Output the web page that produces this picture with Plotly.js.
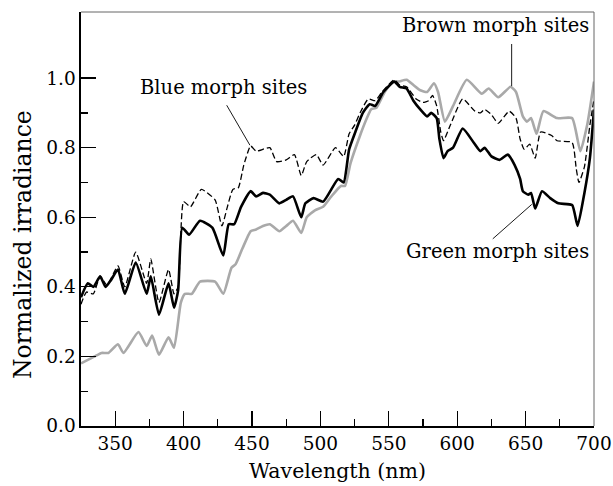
<!DOCTYPE html>
<html>
<head>
<meta charset="utf-8">
<script src="https://cdn.plot.ly/plotly-3.0.1.min.js"></script>
<style>html,body{margin:0;padding:0;background:#fff;}#chart{width:613px;height:486px;}</style>
</head>
<body>
<div id="chart"></div>
<script>
// Green morph sites (black solid)
const greenWl = [325,330,334,339,343,347,352,357,365,373,376,382,389,393,396,399,404,412,421,429,433,437,442,449,453,458,463,470,475,480,486,489,495,502,513,517,521,526,531,536,540,546,554,558,563,568,573,578,581,585,587,590,593,597,604,612,617,620,625,631,637,642,646,648,652,654,657,662,668,674,684,688,693,697,700];
const greenVal = [0.37,0.41,0.40,0.43,0.40,0.42,0.45,0.38,0.47,0.38,0.43,0.32,0.41,0.34,0.39,0.57,0.55,0.59,0.57,0.49,0.58,0.58,0.63,0.675,0.66,0.67,0.665,0.64,0.65,0.66,0.60,0.64,0.655,0.645,0.71,0.70,0.795,0.85,0.90,0.925,0.92,0.96,0.99,0.975,0.97,0.935,0.91,0.89,0.90,0.885,0.825,0.77,0.79,0.80,0.855,0.815,0.79,0.80,0.775,0.765,0.78,0.75,0.71,0.675,0.665,0.67,0.625,0.675,0.655,0.64,0.635,0.575,0.67,0.77,0.91];

// Brown morph sites (gray solid)
const brownWl = [325,330,335,340,345,352,356,367,373,377,382,389,393,398,401,406,412,423,429,435,438,443,449,453,458,463,470,475,480,486,490,496,502,508,515,518,522,529,534,537,541,547,553,557,563,568,573,578,583,586,591,597,607,618,623,630,639,643,648,651,654,658,663,673,684,690,695,700];
const brownVal = [0.18,0.19,0.20,0.21,0.21,0.235,0.21,0.27,0.23,0.26,0.205,0.255,0.225,0.355,0.38,0.38,0.415,0.415,0.38,0.455,0.465,0.51,0.56,0.565,0.575,0.58,0.56,0.575,0.59,0.555,0.60,0.62,0.63,0.66,0.69,0.69,0.755,0.835,0.885,0.91,0.915,0.96,0.99,0.99,0.995,0.98,0.965,0.96,0.985,0.96,0.875,0.92,0.995,0.955,0.97,0.945,0.975,0.96,0.89,0.875,0.885,0.84,0.905,0.885,0.885,0.79,0.865,0.99];

// Blue morph sites (black dashed)
const blueWl = [325,329,334,339,344,352,357,365,373,376,382,389,393,396,400,405,413,423,428,432,436,440,444,449,453,463,468,475,481,486,490,497,502,511,517,521,525,529,535,540,545,554,558,563,570,575,579,582,585,588,590,595,604,613,617,620,625,630,638,643,646,649,653,657,661,669,673,684,687,689,693,697,700];
const blueVal = [0.35,0.385,0.38,0.43,0.405,0.46,0.40,0.50,0.41,0.48,0.355,0.45,0.38,0.40,0.645,0.63,0.68,0.65,0.575,0.63,0.68,0.685,0.75,0.805,0.79,0.80,0.76,0.765,0.78,0.72,0.76,0.78,0.75,0.80,0.775,0.84,0.865,0.90,0.94,0.935,0.96,0.995,0.98,0.975,0.94,0.93,0.935,0.95,0.92,0.845,0.82,0.865,0.94,0.905,0.90,0.91,0.895,0.87,0.905,0.885,0.825,0.795,0.81,0.77,0.845,0.835,0.82,0.815,0.74,0.70,0.745,0.865,0.94];

const xTicks = [350,400,450,500,550,600,650,700];
const yTicks = [0,0.2,0.4,0.6,0.8,1.0];
const yTickText = ['0.0','0.2','0.4','0.6','0.8','1.0'];
const labels = ['Blue morph sites','Brown morph sites','Green morph sites'];
const xTitle = 'Wavelength (nm)';
const yTitle = 'Normalized irradiance';

const FONT = 'DejaVu Serif, Liberation Serif, serif';

const traces = [
  {x: brownWl, y: brownVal, type: 'scatter', mode: 'lines', name: labels[1],
   line: {color: '#a9a9a9', width: 2.6, shape: 'spline', smoothing: 0.5}},
  {x: blueWl, y: blueVal, type: 'scatter', mode: 'lines', name: labels[0],
   line: {color: '#000', width: 1.3, dash: '6px,3px', shape: 'spline', smoothing: 0.5}},
  {x: greenWl, y: greenVal, type: 'scatter', mode: 'lines', name: labels[2],
   line: {color: '#000', width: 2.6, shape: 'spline', smoothing: 0.5}}
];

const layout = {
  width: 613, height: 486,
  margin: {l: 81, r: 19, t: 12, b: 60},
  paper_bgcolor: '#fff', plot_bgcolor: '#fff',
  showlegend: false,
  font: {family: FONT, size: 19, color: '#000'},
  xaxis: {
    range: [325, 700], tickmode: 'array', tickvals: xTicks,
    ticks: 'inside', ticklen: 15, tickwidth: 1.3, tickcolor: '#000',
    minor: {tickmode: 'array', tickvals: [375,425,475,525,575,625,675], ticks: 'inside', ticklen: 7, tickwidth: 1.3, tickcolor: '#000'},
    showline: true, linecolor: '#000', linewidth: 1.6,
    showgrid: false, zeroline: false,
    tickfont: {family: FONT, size: 18.5, color: '#000'},
    title: {text: xTitle, font: {family: FONT, size: 20.5, color: '#000'}, standoff: 11}
  },
  yaxis: {
    range: [0, 1.19], tickmode: 'array', tickvals: yTicks, ticktext: yTickText,
    ticks: 'inside', ticklen: 15, tickwidth: 1.3, tickcolor: '#000',
    minor: {tickmode: 'array', tickvals: [0.1,0.3,0.5,0.7,0.9], ticks: 'inside', ticklen: 7, tickwidth: 1.3, tickcolor: '#000'},
    showline: true, linecolor: '#000', linewidth: 1.6,
    showgrid: false, zeroline: false,
    tickfont: {family: FONT, size: 18.5, color: '#000'}
  },
  shapes: [
    {type: 'line', xref: 'paper', yref: 'paper', x0: 0, x1: 1, y0: 1, y1: 1, line: {color: '#666', width: 1}},
    {type: 'line', xref: 'paper', yref: 'paper', x0: 1, x1: 1, y0: 0, y1: 1, line: {color: '#666', width: 1}},
    {type: 'line', xref: 'x', yref: 'y', x0: 431.5, y0: 0.922, x1: 448.5, y1: 0.807, line: {color: '#000', width: 0.9}},
    {type: 'line', xref: 'x', yref: 'y', x0: 639.8, y0: 1.098, x1: 639.8, y1: 0.977, line: {color: '#000', width: 0.9}},
    {type: 'line', xref: 'x', yref: 'y', x0: 626, y0: 0.538, x1: 654.5, y1: 0.637, line: {color: '#000', width: 0.9}}
  ],
  annotations: [
    {x: 428.8, y: 0.974, xref: 'x', yref: 'y', text: labels[0], showarrow: false, xanchor: 'center', yanchor: 'middle', font: {family: FONT, size: 19.5, color: '#000'}},
    {x: 628, y: 1.150, xref: 'x', yref: 'y', text: labels[1], showarrow: false, xanchor: 'center', yanchor: 'middle', font: {family: FONT, size: 19.5, color: '#000'}},
    {x: 629.8, y: 0.501, xref: 'x', yref: 'y', text: labels[2], showarrow: false, xanchor: 'center', yanchor: 'middle', font: {family: FONT, size: 19.5, color: '#000'}},
    {x: 0, y: 0.437, xref: 'paper', yref: 'paper', xshift: -58, text: yTitle, textangle: -90, showarrow: false, xanchor: 'center', yanchor: 'middle', font: {family: FONT, size: 23.5, color: '#000'}}
  ]
};

Plotly.newPlot('chart', traces, layout, {staticPlot: true, displayModeBar: false});
</script>
</body>
</html>
